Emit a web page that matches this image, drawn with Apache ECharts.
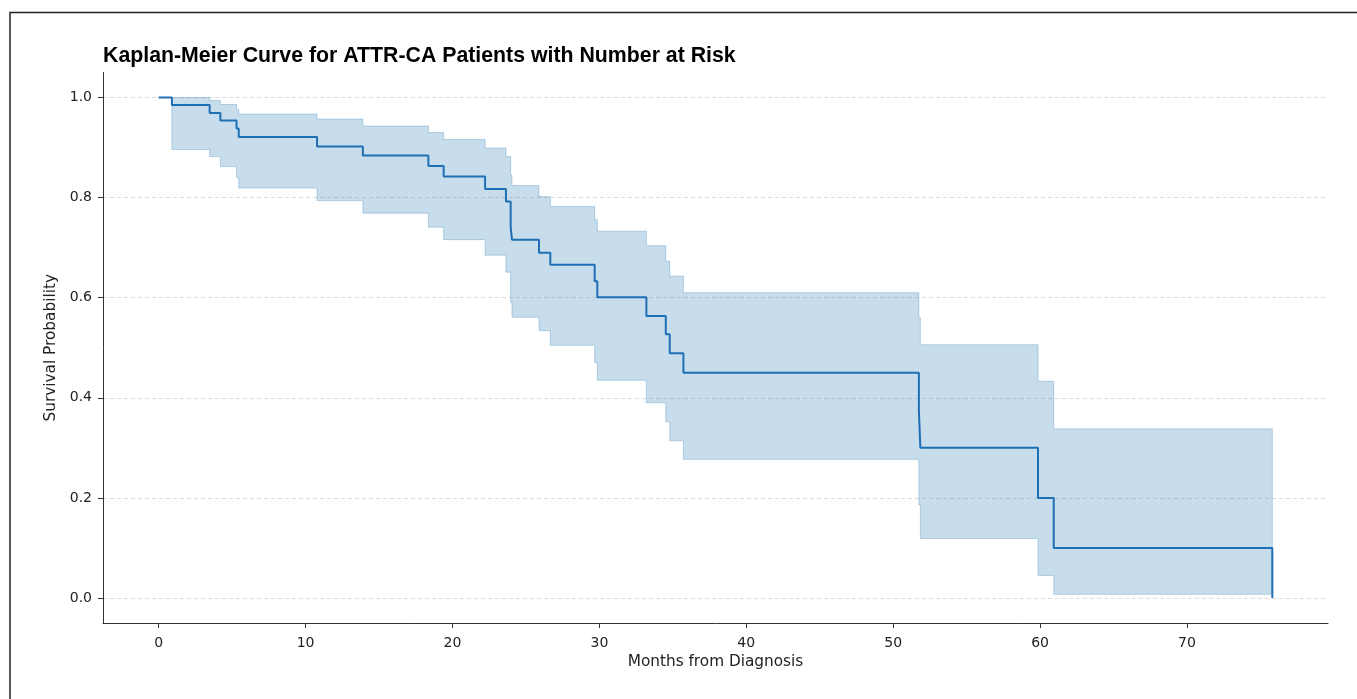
<!DOCTYPE html>
<html>
<head>
<meta charset="utf-8">
<script src="https://cdn.jsdelivr.net/npm/echarts@6/dist/echarts.min.js"></script>
<style>
html,body{margin:0;padding:0;background:#fff;}
#chart{width:1357px;height:699px;}
</style>
</head>
<body>
<div id="chart"></div>
<script>
// Kaplan-Meier step data (value holds from time[i] until time[i+1])
var times    = [0, 0.9, 3.47, 4.2, 5.3, 5.45, 10.78, 13.9, 18.36, 19.4, 22.22, 23.64, 23.96, 24.05, 25.89, 26.66, 29.68, 29.86, 33.2, 34.52, 34.79, 35.72, 51.75, 51.85, 59.86, 60.93, 75.81];
var survival = [1.0, 0.985, 0.969, 0.954, 0.938, 0.921, 0.902, 0.884, 0.863, 0.842, 0.817, 0.792, 0.741, 0.716, 0.690, 0.666, 0.633, 0.601, 0.5635, 0.527, 0.489, 0.450, 0.375, 0.300, 0.200, 0.100, 0.0];
var upperCI  = [1.0, 1.0, 0.994, 0.986, 0.976, 0.967, 0.957, 0.943, 0.930, 0.916, 0.899, 0.882, 0.845, 0.824, 0.802, 0.782, 0.756, 0.733, 0.704, 0.673, 0.643, 0.610, 0.560, 0.506, 0.433, 0.338, 0.338];
var lowerCI  = [1.0, 0.896, 0.882, 0.862, 0.840, 0.819, 0.794, 0.769, 0.741, 0.716, 0.685, 0.651, 0.591, 0.561, 0.534, 0.505, 0.470, 0.435, 0.390, 0.352, 0.314, 0.277, 0.186, 0.119, 0.045, 0.0074, 0.0074];
var xTicks = [0, 10, 20, 30, 40, 50, 60, 70];
var yTicks = [0.0, 0.2, 0.4, 0.6, 0.8, 1.0];

var kmData = times.map(function (t, i) { return [t, survival[i]]; });
var bandData = times.map(function (t, i) { return [t, lowerCI[i], upperCI[i]]; });

var tMax = times[times.length - 1];
var xPad = tMax * 0.05;

var tickFont = {fontFamily: 'DejaVu Sans', fontSize: 14, color: '#222'};

// Draw the confidence band as one stepped polygon, all points through api.coord
function renderBand(params, api) {
  if (params.dataIndex !== 0) return null;
  var n = times.length;
  var top = [], bot = [];
  for (var i = 0; i < n; i++) {
    var t0 = times[i];
    var t1 = i < n - 1 ? times[i + 1] : times[i];
    top.push(api.coord([t0, upperCI[i]]));
    top.push(api.coord([t1, upperCI[i]]));
    bot.push(api.coord([t0, lowerCI[i]]));
    bot.push(api.coord([t1, lowerCI[i]]));
  }
  var pts = top.concat(bot.reverse());
  return {
    type: 'polygon',
    shape: {points: pts},
    style: {fill: 'rgba(31,119,180,0.25)', stroke: 'rgba(31,119,180,0.28)', lineWidth: 1}
  };
}

var chart = echarts.init(document.getElementById('chart'), null, {renderer: 'canvas'});
chart.setOption({
  animation: false,
  backgroundColor: '#fff',
  title: {
    text: 'Kaplan-Meier Curve for ATTR-CA Patients with Number at Risk',
    left: 103, top: 46, padding: 0,
    textStyle: {fontFamily: 'Liberation Sans', fontWeight: 'bold', fontSize: 21.3, color: '#000'}
  },
  graphic: [{
    type: 'rect', silent: true, z: 100,
    shape: {x: 10, y: 12.5, width: 1500, height: 800},
    style: {fill: 'none', stroke: '#222', lineWidth: 1.5}
  }],
  grid: {left: 103, right: 29, top: 72.5, bottom: 76, containLabel: false},
  xAxis: {
    type: 'value', min: -xPad, max: tMax + xPad,
    name: 'Months from Diagnosis', nameLocation: 'middle', nameGap: 32,
    nameTextStyle: {fontFamily: 'DejaVu Sans', fontSize: 15.3, color: '#222'},
    axisLine: {show: true, onZero: false, lineStyle: {color: '#333', width: 1}},
    axisTick: {show: true, length: 5, customValues: xTicks, lineStyle: {color: '#333'}},
    axisLabel: Object.assign({customValues: xTicks, margin: 13}, tickFont),
    splitLine: {show: false}
  },
  yAxis: {
    type: 'value', min: -0.05, max: 1.05,
    name: 'Survival Probability', nameLocation: 'middle', nameGap: 35,
    nameTextStyle: {fontFamily: 'DejaVu Sans', fontSize: 15.3, color: '#222'},
    axisLine: {show: true, onZero: false, lineStyle: {color: '#333', width: 1}},
    axisTick: {show: true, length: 5, customValues: yTicks, lineStyle: {color: '#333'}},
    axisLabel: Object.assign({customValues: yTicks, margin: 11, formatter: function (v) { return v.toFixed(1); }}, tickFont),
    splitLine: {show: false}
  },
  series: [
    {
      type: 'line', name: 'grid', data: [], z: 0, silent: true,
      markLine: {
        silent: true, z: 0, symbol: ['none', 'none'], label: {show: false},
        lineStyle: {color: '#dcdcdc', type: [4, 3], width: 1},
        data: yTicks.map(function (v) { return {yAxis: v}; })
      }
    },
    {
      type: 'custom', name: 'band', data: bandData, z: 1, silent: true,
      encode: {x: 0, y: [1, 2]},
      renderItem: renderBand
    },
    {
      type: 'line', name: 'KM', data: kmData, step: 'end',
      showSymbol: false, silent: true, z: 3,
      lineStyle: {color: '#1f6fb4', width: 2}
    }
  ]
});
</script>
</body>
</html>
